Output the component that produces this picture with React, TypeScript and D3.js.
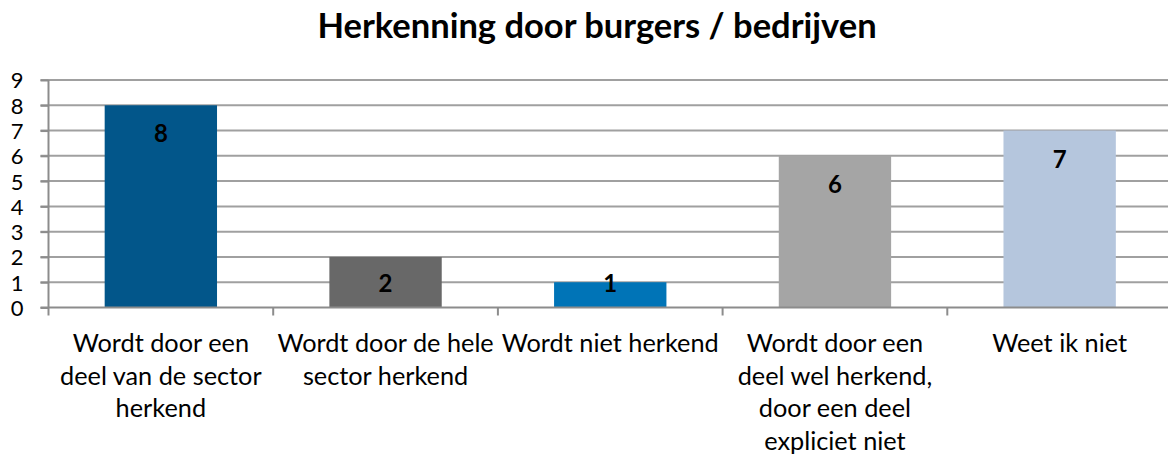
import React from "react";
import * as d3 from "d3";

const categories = [
  "Wordt door een\ndeel van de sector\nherkend",
  "Wordt door de hele\nsector herkend",
  "Wordt niet herkend",
  "Wordt door een\ndeel wel herkend,\ndoor een deel\nexpliciet niet",
  "Weet ik niet",
];
const values = [8, 2, 1, 6, 7];
const colors = ["#02568a", "#686868", "#0074b7", "#a5a5a5", "#b5c6dd"];
const yTicks = [0, 1, 2, 3, 4, 5, 6, 7, 8, 9];

const W = 1168;
const H = 454;
const FONT = "Lato, 'Noto Sans', sans-serif";

const App = () => {
  const ref = React.useRef<SVGSVGElement>(null);

  React.useEffect(() => {
    const svg = d3.select(ref.current);
    svg.selectAll("*").remove();

    const left = 48.5;
    const right = 1172;
    const top = 80;
    const bottom = 307.5;

    const x = d3.scaleBand().domain(categories).range([left, right]).paddingInner(0.5).paddingOuter(0.25);
    const y = d3.scaleLinear().domain([0, 9]).range([bottom, top]);

    // title
    svg.append("text")
      .attr("x", 597)
      .attr("y", 38)
      .attr("text-anchor", "middle")
      .attr("font-family", FONT)
      .attr("font-weight", "bold")
      .attr("font-size", "34.5px")
      .text("Herkenning door burgers / bedrijven");

    // gridlines
    svg.append("g")
      .selectAll("line")
      .data(yTicks.filter((d) => d > 0))
      .join("line")
      .attr("x1", left - 8)
      .attr("x2", W)
      .attr("y1", (d) => y(d))
      .attr("y2", (d) => y(d))
      .attr("stroke", "#a0a0a0")
      .attr("stroke-width", 2);

    // bars
    svg.append("g")
      .selectAll("rect")
      .data(values)
      .join("rect")
      .attr("x", (d, i) => x(categories[i])!)
      .attr("width", x.bandwidth())
      .attr("y", (d) => y(d))
      .attr("height", (d) => bottom - y(d))
      .attr("fill", (d, i) => colors[i]);

    // value labels (inside end, kept within the plot for short bars)
    svg.append("g")
      .selectAll("text")
      .data(values)
      .join("text")
      .attr("x", (d, i) => x(categories[i])! + x.bandwidth() / 2)
      .attr("y", (d) => Math.min(y(d) + 37, bottom - 16))
      .attr("text-anchor", "middle")
      .attr("font-family", FONT)
      .attr("font-weight", "bold")
      .attr("font-size", "24px")
      .attr("fill", "#000")
      .text((d) => d);

    // y axis
    const yAxis = svg.append("g")
      .attr("transform", `translate(${left},0)`)
      .call(d3.axisLeft(y).tickValues(yTicks).tickSize(8).tickPadding(17).tickFormat(d3.format("d")));
    yAxis.select(".domain").attr("stroke", "#8c8c8c").attr("stroke-width", 2)
      .attr("d", `M0,${bottom + 8}V${top}`);
    yAxis.selectAll(".tick line").attr("stroke", "#8c8c8c").attr("stroke-width", 2);
    yAxis.selectAll(".tick text")
      .attr("font-family", FONT)
      .attr("font-size", "22px")
      .attr("fill", "#000")
      .attr("dy", "0.36em");

    // x axis
    const bounds = categories.map((c) => x(c)! - x.step() * 0.25);
    const xAxis = svg.append("g");
    xAxis.append("line")
      .attr("x1", left - 8)
      .attr("x2", W)
      .attr("y1", bottom)
      .attr("y2", bottom)
      .attr("stroke", "#8c8c8c")
      .attr("stroke-width", 2);
    xAxis.selectAll("line.tk")
      .data(bounds.slice(1))
      .join("line")
      .attr("class", "tk")
      .attr("x1", (d) => d)
      .attr("x2", (d) => d)
      .attr("y1", bottom)
      .attr("y2", bottom + 8)
      .attr("stroke", "#8c8c8c")
      .attr("stroke-width", 2);

    const lbl = xAxis.selectAll("text.cat")
      .data(categories)
      .join("text")
      .attr("class", "cat")
      .attr("text-anchor", "middle")
      .attr("font-family", FONT)
      .attr("font-size", "25.3px")
      .attr("fill", "#000");
    lbl.each(function (c) {
      const t = d3.select(this);
      c.split("\n").forEach((line, i) => {
        t.append("tspan")
          .attr("x", x(c)! + x.bandwidth() / 2)
          .attr("y", 352 + i * 32.5)
          .text(line);
      });
    });
  }, []);

  return (
    <svg
      ref={ref}
      width={W}
      height={H}
      style={{ position: "absolute", left: 0, top: 0, background: "#fff" }}
    ></svg>
  );
};

export default App;
